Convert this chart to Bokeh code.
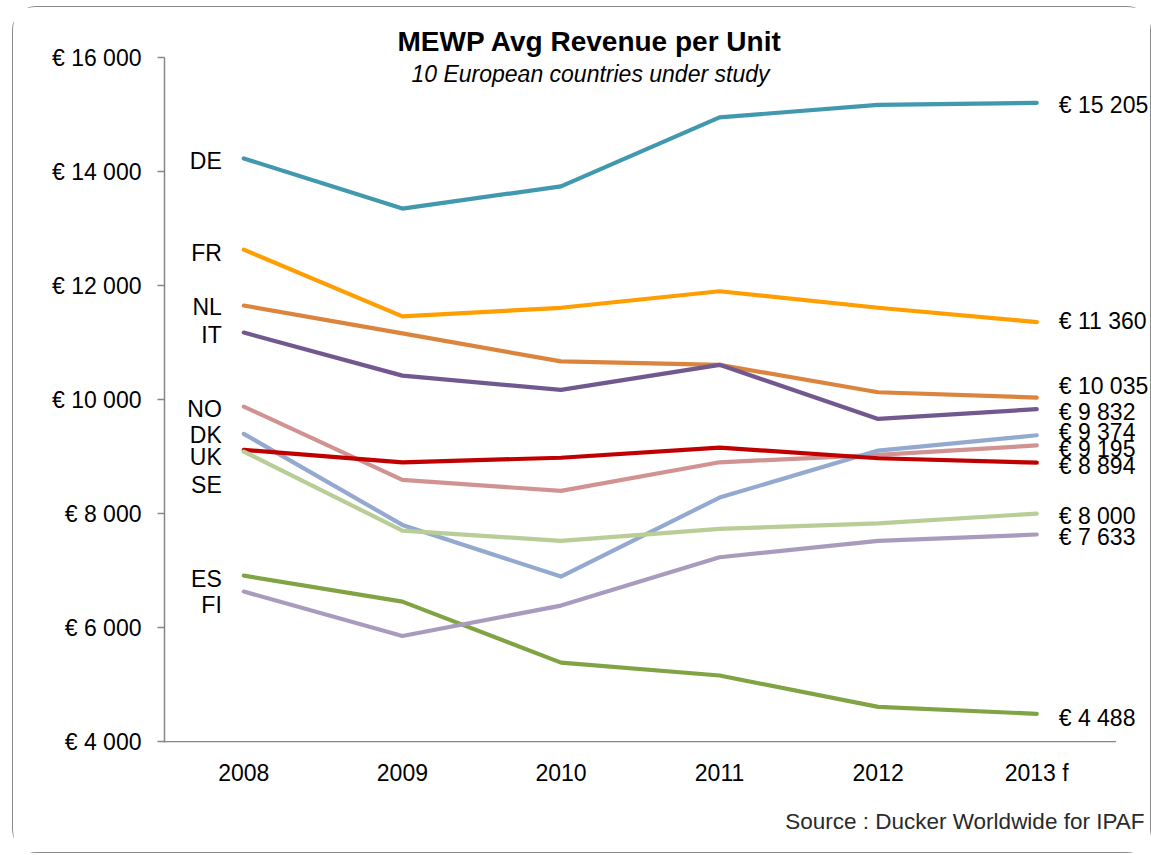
from bokeh.plotting import figure
from bokeh.models import (Range1d, FixedTicker, LabelSet, Label, Title, ColumnDataSource)
from bokeh.core.properties import value
from bokeh.embed import file_html
from bokeh.resources import INLINE

years = ["2008", "2009", "2010", "2011", "2012", "2013 f"]

countries = ["DE", "FR", "NL", "IT", "NO", "DK", "UK", "SE", "ES", "FI"]
DE = [14230, 13350, 13740, 14950, 15170, 15205]
FR = [12630, 11460, 11610, 11900, 11610, 11360]
NL = [11650, 11160, 10670, 10609, 10128, 10035]
IT = [11175, 10420, 10170, 10609, 9661, 9832]
NO = [9877, 8591, 8398, 8900, 9030, 9195]
DK = [9398, 7801, 6895, 8281, 9105, 9374]
UK = [9117, 8900, 8980, 9158, 8971, 8894]
SE = [9088, 7702, 7521, 7731, 7830, 8000]
ES = [6912, 6456, 5386, 5160, 4610, 4488]
FI = [6632, 5854, 6386, 7234, 7521, 7633]
series = [DE, FR, NL, IT, NO, DK, UK, SE, ES, FI]

y_ticks = [4000, 6000, 8000, 10000, 12000, 14000, 16000]
y_tick_labels = ["€ 4 000", "€ 6 000", "€ 8 000", "€ 10 000", "€ 12 000", "€ 14 000", "€ 16 000"]
end_labels = ["€ 15 205", "€ 11 360", "€ 10 035", "€ 9 832", "€ 9 195", "€ 9 374", "€ 8 894", "€ 8 000", "€ 4 488", "€ 7 633"]

colors = ["#4198AF", "#FF9E00", "#DB843D", "#71588F", "#D19392",
          "#93A9CF", "#C00000", "#B9CD96", "#80A444", "#A99BBD"]
# label nudges in screen pixels (positive = up)
left_nudge = [-3, -3, -1, -2, -2, -1, -7, -33, -3, -13]
right_nudge = [-2, 1, 12, -3, -4, 3, -3, -2, -4, -2]

FONT = "Liberation Sans"
xs = list(range(len(years)))

p = figure(x_range=Range1d(-0.5, 5.73), y_range=Range1d(3985, 16000),
           width=1139, height=847, output_backend="svg", toolbar_location=None,
           min_border_left=151, min_border_top=50, min_border_bottom=112, min_border_right=0)
p.styles = {"margin-left": "12px", "margin-top": "6px",
            "border": "1.5px solid #8a8a8a", "border-radius": "24px", "box-sizing": "border-box"}
p.outline_line_color = None
p.xgrid.grid_line_color = None
p.ygrid.grid_line_color = None

for name, vals, col in zip(countries, series, colors):
    p.line(xs, vals, line_color=col, line_width=4.2, line_join="round", line_cap="round")

# x axis baseline across the categories only
p.segment(x0=[xs[0] - 0.5], x1=[xs[-1] + 0.5], y0=[y_ticks[0]], y1=[y_ticks[0]],
          line_color="#868686", line_width=1.5)

# left labels
src_left = ColumnDataSource(dict(x=[xs[0]] * len(countries), y=[s[0] for s in series],
                                 t=countries, off=left_nudge))
p.add_layout(LabelSet(x="x", y="y", text="t", source=src_left, x_offset=-22, y_offset="off",
                      text_align="right", text_baseline="middle", text_font=value(FONT),
                      text_font_size="23px", text_color="#000000"))
# right labels
src_right = ColumnDataSource(dict(x=[xs[-1]] * len(countries), y=[s[-1] for s in series],
                                  t=end_labels, off=right_nudge))
p.add_layout(LabelSet(x="x", y="y", text="t", source=src_right, x_offset=22, y_offset="off",
                      text_align="left", text_baseline="middle", text_font=value(FONT),
                      text_font_size="23px", text_color="#000000"))

# axes
p.yaxis.ticker = FixedTicker(ticks=y_ticks)
p.yaxis.major_label_overrides = dict(zip(y_ticks, y_tick_labels))
p.yaxis.minor_tick_line_color = None
p.yaxis.major_tick_in = 0
p.yaxis.major_tick_out = 7
p.yaxis.major_tick_line_color = "#868686"
p.yaxis.major_tick_line_width = 1.5
p.yaxis.axis_line_color = "#868686"
p.yaxis.axis_line_width = 1.5
p.yaxis.major_label_standoff = 16
p.yaxis.major_label_text_font = FONT
p.yaxis.major_label_text_font_size = "23px"
p.yaxis.major_label_text_color = "#000000"

p.xaxis.ticker = FixedTicker(ticks=xs)
p.xaxis.major_label_overrides = dict(zip(xs, years))
p.xaxis.major_tick_line_color = None
p.xaxis.minor_tick_line_color = None
p.xaxis.axis_line_color = None
p.xaxis.major_label_standoff = 11
p.xaxis.major_label_text_font = FONT
p.xaxis.major_label_text_font_size = "23px"
p.xaxis.major_label_text_color = "#000000"

# titles
p.add_layout(Title(text="MEWP Avg Revenue per Unit", align="left", offset=233,
                   text_font=FONT, text_font_size="28px", text_font_style="bold",
                   text_color="#000000", standoff=2), "above")
p.add_layout(Label(x=2.186, y=15702, text="10 European countries under study", text_align="center",
                   text_baseline="middle", text_font=FONT, text_font_size="23px",
                   text_font_style="italic", text_color="#000000"))
p.add_layout(Title(text="Source : Ducker Worldwide for IPAF", align="right", offset=8,
                   text_font=FONT, text_font_size="22.5px", text_font_style="normal",
                   text_color="#2a2a2a", standoff=36), "below")

open("out.html", "w").write(file_html(p, INLINE))
